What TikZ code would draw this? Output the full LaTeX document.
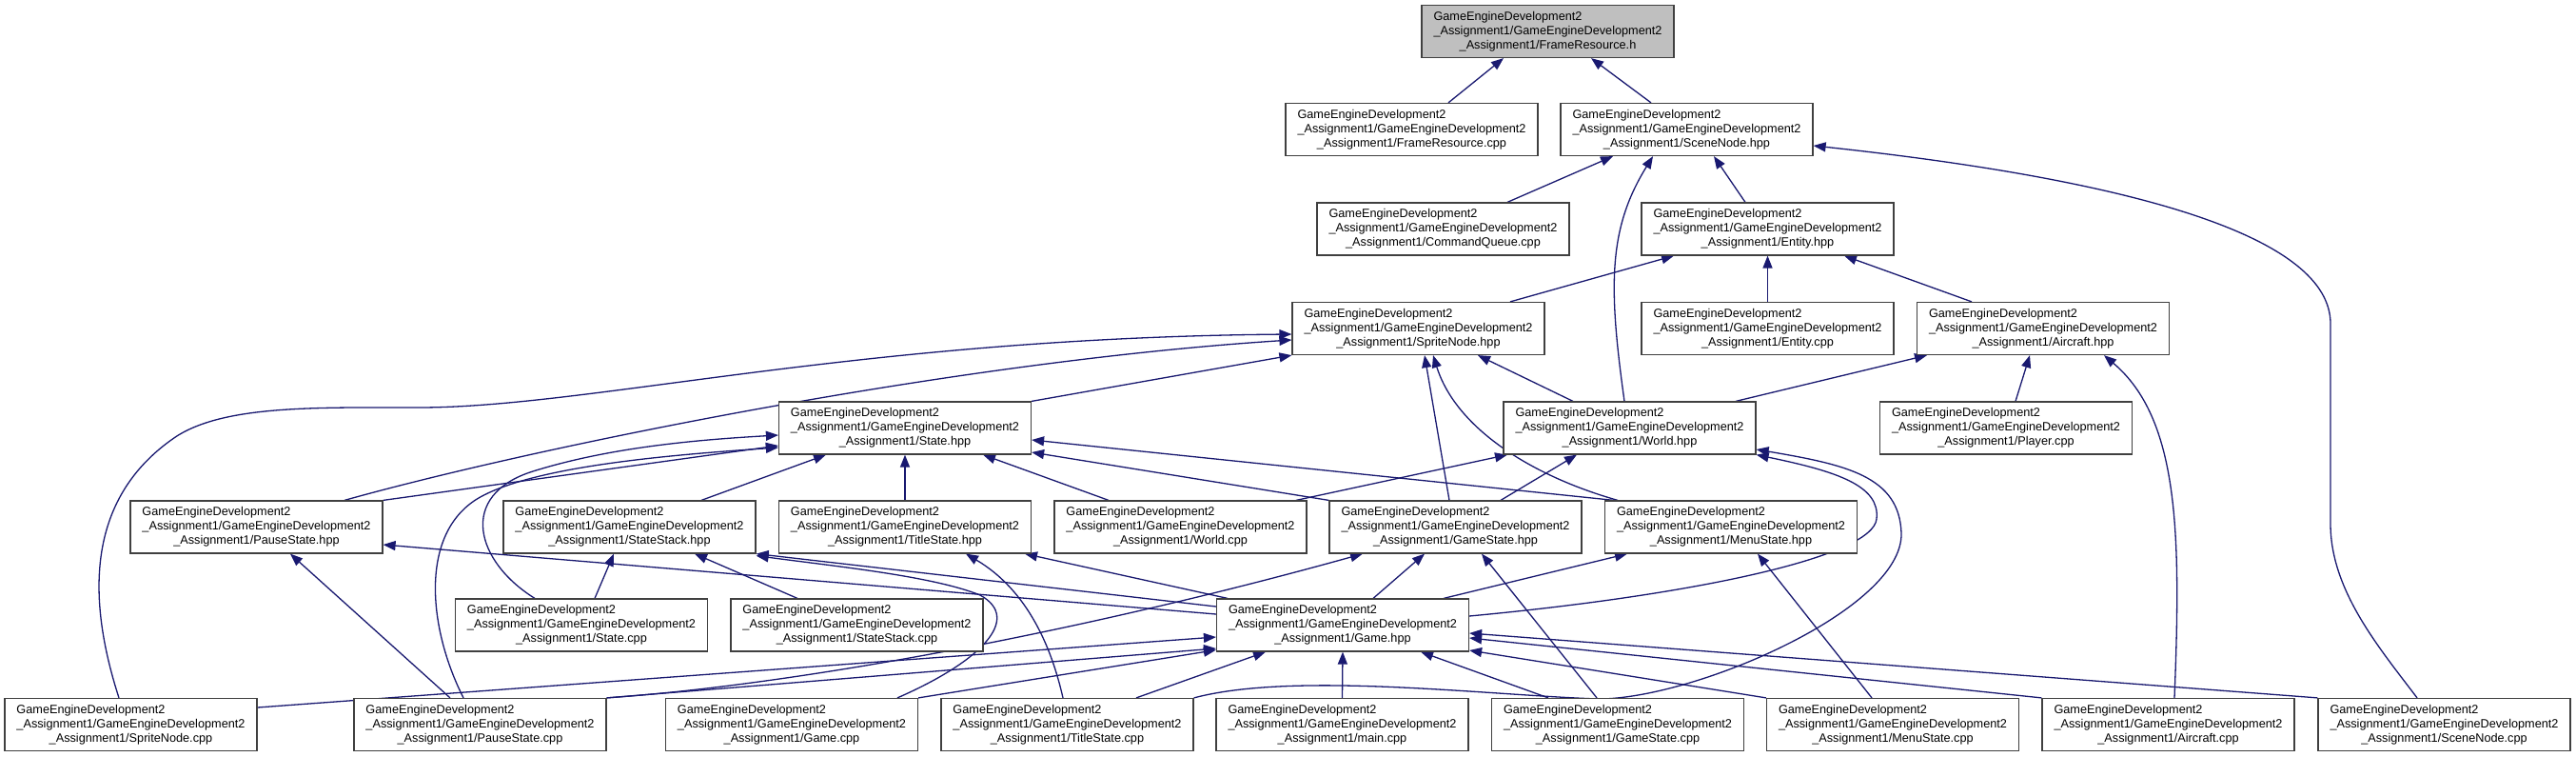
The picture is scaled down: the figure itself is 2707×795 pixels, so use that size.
\documentclass[tikz,border=0pt]{standalone}
\usepackage{fontspec}
\setmainfont{Liberation Sans}
\usetikzlibrary{arrows.meta}
\definecolor{edgeblue}{HTML}{191970}
\definecolor{rootgray}{HTML}{BFBFBF}
\pgfdeclarelayer{bg}
\pgfsetlayers{bg,main}
\newcommand{\gedlabel}[1]{\rlap{GameEngineDevelopment2}\phantom{\_Assignment1/GameEngineDevelopment2}\\\_Assignment1/GameEngineDevelopment2\\\_Assignment1/#1}
\begin{document}
\begin{tikzpicture}[x=1pt,y=-1pt,
  filebox/.style={draw=black!75, line width=1.2pt, fill=white, minimum width=265pt, minimum height=55pt, inner sep=0pt, align=center, font=\fontsize{12.7pt}{15pt}\selectfont},
  rootbox/.style={filebox, fill=rootgray},
  edge/.style={draw=edgeblue, line width=1.3pt, -{Triangle[length=13pt,width=10pt]}}]
\useasboundingbox (0,0) rectangle (2707,795);
% nodes
\node[rootbox] (frh) at (1626.5,33) {\gedlabel{FrameResource.h}};
\node[filebox] (frcpp) at (1483.5,136) {\gedlabel{FrameResource.cpp}};
\node[filebox] (snh) at (1772.5,136) {\gedlabel{SceneNode.hpp}};
\node[filebox] (cqcpp) at (1516.5,240.5) {\gedlabel{CommandQueue.cpp}};
\node[filebox] (enth) at (1857.5,240.5) {\gedlabel{Entity.hpp}};
\node[filebox] (spnh) at (1490.5,345) {\gedlabel{SpriteNode.hpp}};
\node[filebox] (entcpp) at (1857.5,345) {\gedlabel{Entity.cpp}};
\node[filebox] (airh) at (2147,345) {\gedlabel{Aircraft.hpp}};
\node[filebox] (sth) at (951,449.5) {\gedlabel{State.hpp}};
\node[filebox] (wh) at (1712.5,449.5) {\gedlabel{World.hpp}};
\node[filebox] (plcpp) at (2108,449.5) {\gedlabel{Player.cpp}};
\node[filebox] (psh) at (269.5,553.5) {\gedlabel{PauseState.hpp}};
\node[filebox] (ssh) at (661.5,553.5) {\gedlabel{StateStack.hpp}};
\node[filebox] (tsh) at (951,553.5) {\gedlabel{TitleState.hpp}};
\node[filebox] (wcpp) at (1240.5,553.5) {\gedlabel{World.cpp}};
\node[filebox] (gsh) at (1529.5,553.5) {\gedlabel{GameState.hpp}};
\node[filebox] (msh) at (1819,553.5) {\gedlabel{MenuState.hpp}};
\node[filebox] (stcpp) at (611,656.5) {\gedlabel{State.cpp}};
\node[filebox] (sscpp) at (900.5,656.5) {\gedlabel{StateStack.cpp}};
\node[filebox] (gh) at (1411,656.5) {\gedlabel{Game.hpp}};
\node[filebox] (spncpp) at (137.5,761) {\gedlabel{SpriteNode.cpp}};
\node[filebox] (pscpp) at (504.5,761) {\gedlabel{PauseState.cpp}};
\node[filebox] (gcpp) at (832,761) {\gedlabel{Game.cpp}};
\node[filebox] (tscpp) at (1121.5,761) {\gedlabel{TitleState.cpp}};
\node[filebox] (maincpp) at (1410.5,761) {\gedlabel{main.cpp}};
\node[filebox] (gscpp) at (1700,761) {\gedlabel{GameState.cpp}};
\node[filebox] (mscpp) at (1989,761) {\gedlabel{MenuState.cpp}};
\node[filebox] (aircpp) at (2278.5,761) {\gedlabel{Aircraft.cpp}};
\node[filebox] (sncpp) at (2568.5,761) {\gedlabel{SceneNode.cpp}};
\begin{pgfonlayer}{bg}
\fill[white] (0,0) rectangle (2707,795);
\draw[edge] ([xshift=38.5pt]frcpp.north) -- ([xshift=-46.5pt]frh.south);
\draw[edge] ([xshift=-37.5pt]snh.north) -- ([xshift=45.5pt]frh.south);
\draw[edge] ([xshift=67.5pt]cqcpp.north) -- ([xshift=-77.5pt]snh.south);
\draw[edge] ([xshift=-23.5pt]enth.north) -- ([xshift=28.5pt]snh.south);
\draw[edge] ([xshift=-5.5pt]wh.north) .. controls (1690,300) and (1690,240) .. ([xshift=-35.5pt]snh.south);
\draw[edge] ([xshift=-28.5pt]sncpp.north) .. controls (2500,680) and (2449,620) .. (2449,550) -- (2449,340) .. controls (2449,250) and (2250,190) .. ([yshift=-17pt]snh.east);
\draw[edge] ([xshift=96.5pt]spnh.north) -- ([xshift=-98.5pt]enth.south);
\draw[edge] (entcpp.north) -- (enth.south);
\draw[edge] ([xshift=-75pt]airh.north) -- ([xshift=80.5pt]enth.south);
\draw[edge] (sth.north east) -- (spnh.south west);
\draw[edge] ([xshift=92.5pt]psh.north) .. controls (560,470) and (1000,380) .. ([yshift=-12pt]spnh.west);
\draw[edge] ([xshift=-12.5pt]spncpp.north) .. controls (95,640) and (85,530) .. (180,462) .. controls (230,425) and (330,428) .. (440,428) .. controls (620,428) and (900,355) .. ([yshift=-6pt]spnh.west);
\draw[edge] ([xshift=-59.5pt]wh.north) -- ([xshift=62.5pt]spnh.south);
\draw[edge] ([xshift=-6.5pt]gsh.north) -- ([xshift=6.5pt]spnh.south);
\draw[edge] ([xshift=-119pt]msh.north) .. controls (1610,500) and (1530,450) .. ([xshift=15.5pt]spnh.south);
\draw[edge] ([xshift=111.5pt]wh.north) -- ([xshift=-122pt]airh.south);
\draw[edge] ([xshift=10pt]plcpp.north) -- ([xshift=-14pt]airh.south);
\draw[edge] ([xshift=6.5pt]aircpp.north) .. controls (2292,560) and (2290,440) .. ([xshift=64pt]airh.south);
\draw[edge] ([xshift=75.5pt]ssh.north) -- ([xshift=-83pt]sth.south);
\draw[edge] (tsh.north) -- (sth.south);
\draw[edge] ([xshift=-75.5pt]wcpp.north) -- ([xshift=82pt]sth.south);
\draw[edge] (gsh.north west) -- ([yshift=-25.5pt]sth.east);
\draw[edge] ([xshift=-123pt]msh.north) -- ([yshift=-12.5pt]sth.east);
\draw[edge] (psh.north east) -- ([yshift=-18.5pt]sth.west);
\draw[edge] ([xshift=-49pt]stcpp.north) .. controls (500,590) and (480,520) .. (560,495) .. controls (640,470) and (730,462) .. ([yshift=-7.5pt]sth.west);
\draw[edge] ([xshift=-17.5pt]pscpp.north) .. controls (450,660) and (440,560) .. (503,523) .. controls (560,490) and (700,478) .. ([yshift=-20.5pt]sth.west);
\draw[edge] ([xshift=14pt]stcpp.north) -- ([xshift=-16.5pt]ssh.south);
\draw[edge] ([xshift=-62.5pt]sscpp.north) -- ([xshift=68.5pt]ssh.south);
\draw[edge] ([yshift=19.5pt]gh.west) -- (ssh.south east);
\draw[edge] ([xshift=111pt]gcpp.north) .. controls (1030,695) and (1075,650) .. (1030,625) .. controls (980,605) and (880,595) .. ([yshift=-2pt]ssh.south east);
\draw[edge] ([yshift=11.5pt]gh.west) -- ([yshift=-18.5pt]psh.east);
\draw[edge] ([xshift=-31.5pt]pscpp.north) -- ([xshift=35.5pt]psh.south);
\draw[edge] ([xshift=-121pt]gh.north) -- ([xshift=126pt]tsh.south);
\draw[edge] ([xshift=-4.5pt]tscpp.north) .. controls (1105,680) and (1080,620) .. ([xshift=64pt]tsh.south);
\draw[edge] ([xshift=121.5pt]wcpp.north) -- ([xshift=-128.5pt]wh.south);
\draw[edge] ([xshift=47.5pt]gsh.north) -- ([xshift=-55.5pt]wh.south);
\draw[edge] ([yshift=9.5pt]gh.east) .. controls (1780,625) and (1968,585) .. (1972,545) .. controls (1976,510) and (1930,495) .. (wh.south east);
\draw[edge] (tscpp.north east) .. controls (1360,705) and (1560,730) .. (1680,734) .. controls (1780,734) and (2000,640) .. (1998,560) .. controls (1996,500) and (1940,488) .. ([yshift=-22.5pt]wh.east);
\draw[edge] ([xshift=32pt]gh.north) -- ([xshift=-32.5pt]gsh.south);
\draw[edge] ([xshift=106pt]gh.north) -- ([xshift=-109pt]msh.south);
\draw[edge] (pscpp.north east) .. controls (850,718) and (1150,660) .. ([xshift=-97.5pt]gsh.south);
\draw[edge] (pscpp.north east) -- ([yshift=-24.5pt]gh.west);
\draw[edge] ([yshift=18pt]spncpp.east) -- ([yshift=-12.5pt]gh.west);
\draw[edge] (gcpp.north east) -- ([yshift=2pt]gh.south west);
\draw[edge] ([xshift=72.5pt]tscpp.north) -- ([xshift=-81pt]gh.south);
\draw[edge] (maincpp.north) -- (gh.south);
\draw[edge] ([xshift=-73pt]gscpp.north) -- ([xshift=82pt]gh.south);
\draw[edge] ([xshift=-22pt]gscpp.north) -- ([xshift=27.5pt]gsh.south);
\draw[edge] (mscpp.north west) -- ([yshift=-26.5pt]gh.east);
\draw[edge] (aircpp.north west) -- ([yshift=-13.5pt]gh.east);
\draw[edge] (sncpp.north west) -- ([yshift=-8.5pt]gh.east);
\draw[edge] ([xshift=-22pt]mscpp.north) -- ([xshift=28pt]msh.south);
\end{pgfonlayer}
\end{tikzpicture}
\end{document}
